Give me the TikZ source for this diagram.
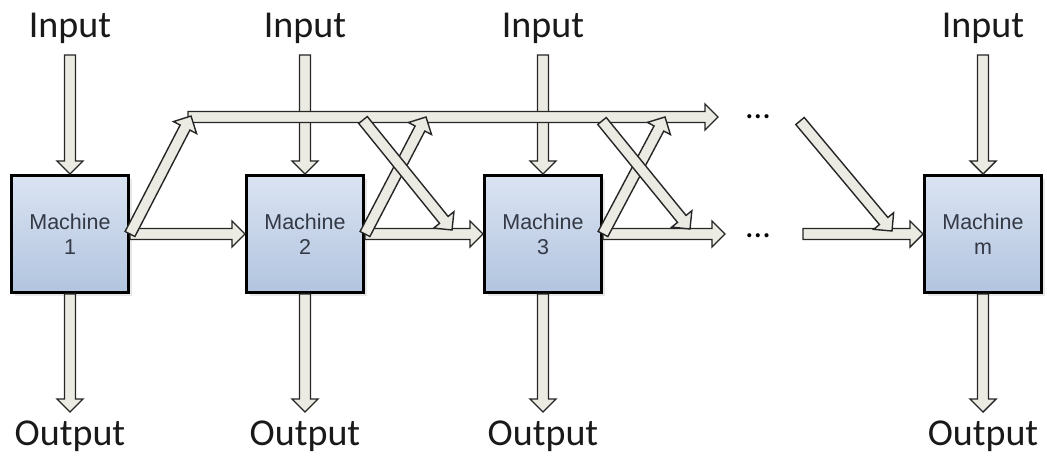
\documentclass[tikz,border=0pt]{standalone}
\usepackage{fontspec}
\setmainfont{Carlito}
\newfontfamily\machfont{Liberation Sans}
\usetikzlibrary{calc,shadows}
\definecolor{arrowfill}{HTML}{EBEBE3}
\definecolor{boxtop}{HTML}{DAE3F2}
\definecolor{boxbot}{HTML}{B2C4DF}
\definecolor{machtext}{HTML}{333945}
\def\bw{5.5pt}
\def\bh{13pt}
\def\bl{13pt}
\newcommand\barrow[2]{%
  \path let \p1=(#1), \p2=(#2) in \pgfextra{%
    \pgfmathsetmacro\tmpang{atan2(\y2-\y1,\x2-\x1)}%
    \pgfmathsetmacro\tmplen{veclen(\x2-\x1,\y2-\y1)}%
    \xdef\baang{\tmpang}\xdef\balen{\tmplen}%
    \xdef\bax{\x1}\xdef\bay{\y1}};
  \draw[blockarrow,shift={(\bax,\bay)},rotate=\baang]
    (0pt,-\bw) -- ({\balen pt-\bl},-\bw) -- ({\balen pt-\bl},-\bh) -- (\balen pt,0pt)
    -- ({\balen pt-\bl},\bh) -- ({\balen pt-\bl},\bw) -- (0pt,\bw) -- cycle;
}
\tikzset{
  blockarrow/.style={draw=black!85, fill=arrowfill, line width=1.4pt, line join=miter},
  machine/.style={draw=black, line width=3pt, minimum width=117pt, minimum height=117pt,
    top color=boxtop, bottom color=boxbot, align=center,
    font=\machfont\fontsize{21.5}{25}\selectfont, text=machtext,
    drop shadow={opacity=0.18, shadow xshift=3pt, shadow yshift=-3pt}},
  iolabel/.style={font=\fontsize{38}{40}\selectfont, text=black!90, inner sep=0pt},
  dotlabel/.style={font=\fontsize{34}{36}\selectfont, inner sep=0pt, anchor=base}
}
\begin{document}
\begin{tikzpicture}[x=1pt,y=-1pt]
\useasboundingbox (0,0) rectangle (1047,468);
\foreach \k/\xx in {1/70,2/305,3/543,m/983} {
  \node[machine] (m\k) at (\xx,234) {Machine\\\k};
  \node[iolabel, anchor=base] (in\k) at (\xx,38) {Input};
  \node[iolabel, anchor=base] (out\k) at (\xx,445) {Output};
  \coordinate (is\k) at (\xx,55);
  \coordinate (oe\k) at (\xx,412);
}
% input / output arrows
\foreach \k in {1,2,3,m} {
  \barrow{is\k}{m\k.north}
  \barrow{m\k.south}{oe\k}
}
% coordinates
\coordinate (t0) at (188,117);
\coordinate (t1) at (718,117);
\coordinate (l3e) at (725,234);
\coordinate (l4s) at (803,234);
\coordinate (d1e) at (191,116);
\coordinate (u2e) at (426,117);
\coordinate (x2s) at (363,120);
\coordinate (x2e) at (452,230);
\coordinate (u3e) at (665,117);
\coordinate (x3s) at (602,121);
\coordinate (x3e) at (690,229);
\coordinate (ds) at (800,121);
\coordinate (de) at (892,231);
% horizontal flows
\barrow{t0}{t1}
\barrow{m1.east}{m2.west}
\barrow{m2.east}{m3.west}
\barrow{m3.east}{l3e}
\barrow{l4s}{mm.west}
\node[dotlabel] (dtop) at (758,119) {...};
\node[dotlabel] (dbot) at (758,237) {...};
% diagonals
\barrow{m1.east}{d1e}
\barrow{m2.east}{u2e}
\barrow{x2s}{x2e}
\barrow{m3.east}{u3e}
\barrow{x3s}{x3e}
\barrow{ds}{de}
\end{tikzpicture}
\end{document}
